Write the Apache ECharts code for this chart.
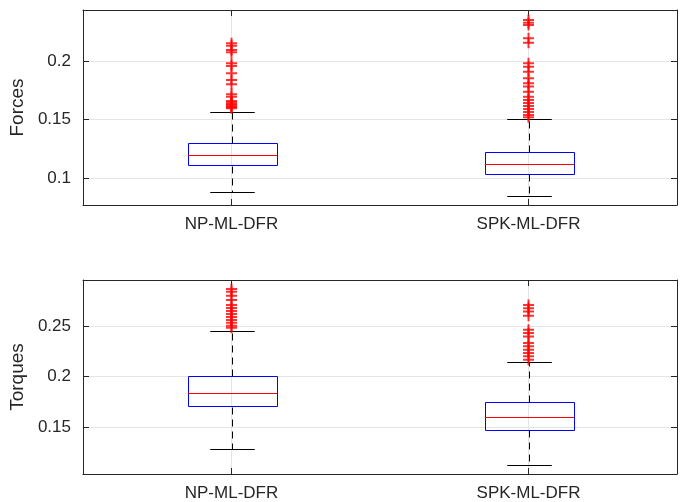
<!DOCTYPE html>
<html>
<head>
<meta charset="utf-8">
<script src="https://cdn.jsdelivr.net/npm/echarts@6/dist/echarts.min.js"></script>
<style>html,body{margin:0;padding:0;background:#fff}#c{width:684px;height:502px}</style>
</head>
<body>
<div id="c"></div>
<script>
// ---- data ----
var categories = ['NP-ML-DFR', 'SPK-ML-DFR'];
// [lower whisker, Q1, median, Q3, upper whisker]
var forcesStats = [
  [0.0880, 0.1105, 0.1194, 0.1297, 0.1565],
  [0.0844, 0.1037, 0.1120, 0.1222, 0.1505]
];
var torquesStats = [
  [0.1280, 0.1704, 0.1842, 0.2003, 0.2451],
  [0.1125, 0.1470, 0.1596, 0.1744, 0.2141]
];
var forcesOutNP = [0.2151, 0.2131, 0.2094, 0.2074, 0.1980, 0.1957, 0.1895, 0.1838, 0.1801,
  0.1716, 0.1695, 0.1658, 0.1645, 0.1632, 0.1622, 0.1612, 0.1604, 0.1596];
var forcesOutSPK = [0.2350, 0.2327, 0.2308, 0.2194, 0.2156, 0.1980, 0.1951, 0.1909, 0.1852,
  0.1810, 0.1781, 0.1738, 0.1695, 0.1667, 0.1641, 0.1615, 0.1590, 0.1564, 0.1538, 0.1520];
var torquesOutNP = [0.2868, 0.2841, 0.2802, 0.2759, 0.2710, 0.2680, 0.2651, 0.2621, 0.2591,
  0.2562, 0.2533, 0.2503, 0.2483];
var torquesOutSPK = [0.2710, 0.2678, 0.2644, 0.2602, 0.2464, 0.2431, 0.2398, 0.2333, 0.2300,
  0.2267, 0.2234, 0.2201, 0.2168];
var forcesTicks = [0.1, 0.15, 0.2];
var torquesTicks = [0.15, 0.2, 0.25];
var forcesRange = [0.0769, 0.2436];
var torquesRange = [0.1036, 0.2957];
var yNames = ['Forces', 'Torques'];

// ---- chart ----
var FONT = '"Liberation Sans", Arial, Helvetica, sans-serif';
var TXT = '#262626';
var GRIDC = '#e4e4e4';
var chart = echarts.init(document.getElementById('c'), null, {renderer: 'canvas'});

function boxData(stats) {
  return stats.map(function (s, i) { return [i + 1].concat(s); });
}
function outData(np, spk) {
  return np.map(function (v) { return [1, v]; }).concat(spk.map(function (v) { return [2, v]; }));
}

function renderBox(params, api) {
  var x = api.value(0);
  var lo = api.value(1), q1 = api.value(2), med = api.value(3), q3 = api.value(4), hi = api.value(5);
  var halfBox = api.size([0.3, 0])[0] / 2;
  var halfCap = api.size([0.15, 0])[0] / 2;
  var pLo = api.coord([x, lo]), pQ1 = api.coord([x, q1]), pMed = api.coord([x, med]);
  var pQ3 = api.coord([x, q3]), pHi = api.coord([x, hi]);
  var cx = Math.round(pLo[0]) + 0.5;
  function r(v) { return Math.round(v) + 0.5; }
  var dash = {stroke: '#000', lineWidth: 1, lineDash: [7, 5]};
  return {
    type: 'group',
    children: [
      {type: 'line', shape: {x1: cx, y1: r(pQ3[1]), x2: cx, y2: r(pHi[1])}, style: dash},
      {type: 'line', shape: {x1: cx, y1: r(pQ1[1]), x2: cx, y2: r(pLo[1])}, style: dash},
      {type: 'line', shape: {x1: cx - halfCap, y1: r(pHi[1]), x2: cx + halfCap, y2: r(pHi[1])}, style: {stroke: '#000', lineWidth: 1}},
      {type: 'line', shape: {x1: cx - halfCap, y1: r(pLo[1]), x2: cx + halfCap, y2: r(pLo[1])}, style: {stroke: '#000', lineWidth: 1}},
      {type: 'rect', shape: {x: r(cx - halfBox), y: r(pQ3[1]), width: Math.round(2 * halfBox), height: Math.round(pQ1[1] - pQ3[1])},
        style: {fill: null, stroke: '#0000ff', lineWidth: 1}},
      {type: 'line', shape: {x1: cx - halfBox, y1: r(pMed[1]), x2: cx + halfBox, y2: r(pMed[1])}, style: {stroke: '#ff0000', lineWidth: 1}}
    ]
  };
}

var grids = [
  {left: 83, right: 7, top: 10, height: 195},
  {left: 83, right: 7, top: 280, height: 195}
];

function xAxes(gi, pos, labels) {
  return {
    type: 'value', gridIndex: gi, position: pos, min: 0.5, max: 2.5,
    axisLine: {show: true, onZero: false, lineStyle: {color: TXT, width: 1}},
    axisTick: {show: true, inside: true, length: 6, customValues: [1, 2], lineStyle: {color: TXT}},
    axisLabel: {show: labels, customValues: [1, 2], margin: 11, color: TXT, fontSize: 17, fontFamily: FONT,
      formatter: function (v) { return categories[Math.round(v) - 1]; }},
    splitLine: {show: pos === 'bottom', lineStyle: {color: GRIDC, width: 1}}
  };
}
function yAxes(gi, pos, range, ticks, name) {
  var main = pos === 'left';
  return {
    type: 'value', gridIndex: gi, position: pos, min: range[0], max: range[1],
    name: main ? name : '', nameLocation: 'middle', nameGap: 55, nameRotate: 90,
    nameTextStyle: {color: TXT, fontSize: 19, fontFamily: FONT},
    axisLine: {show: true, onZero: false, lineStyle: {color: TXT, width: 1}},
    axisTick: {show: true, inside: true, length: 6, customValues: ticks, lineStyle: {color: TXT}},
    axisLabel: {show: main, customValues: ticks, margin: 12, color: TXT, fontSize: 17, fontFamily: FONT,
      formatter: function (v) { return String(+v.toFixed(4)); }},
    splitLine: {show: main, lineStyle: {color: GRIDC, width: 1}}
  };
}

var plusSymbol = 'path://M0,4.5h11v2h-11z M4.5,0h2v11h-2z';

var option = {
  animation: false,
  backgroundColor: '#ffffff',
  grid: grids,
  xAxis: [xAxes(0, 'bottom', true), xAxes(0, 'top', false), xAxes(1, 'bottom', true), xAxes(1, 'top', false)],
  yAxis: [yAxes(0, 'left', forcesRange, forcesTicks, yNames[0]), yAxes(0, 'right', forcesRange, forcesTicks, ''),
          yAxes(1, 'left', torquesRange, torquesTicks, yNames[1]), yAxes(1, 'right', torquesRange, torquesTicks, '')],
  series: [
    {type: 'custom', xAxisIndex: 0, yAxisIndex: 0, renderItem: renderBox, data: boxData(forcesStats),
      encode: {x: 0, y: [1, 2, 3, 4, 5]}, z: 3},
    {type: 'custom', xAxisIndex: 2, yAxisIndex: 2, renderItem: renderBox, data: boxData(torquesStats),
      encode: {x: 0, y: [1, 2, 3, 4, 5]}, z: 3},
    {type: 'scatter', xAxisIndex: 0, yAxisIndex: 0, data: outData(forcesOutNP, forcesOutSPK),
      symbol: plusSymbol, symbolSize: 11, itemStyle: {color: '#ff0000'}, z: 4, silent: true},
    {type: 'scatter', xAxisIndex: 2, yAxisIndex: 2, data: outData(torquesOutNP, torquesOutSPK),
      symbol: plusSymbol, symbolSize: 11, itemStyle: {color: '#ff0000'}, z: 4, silent: true}
  ]
};
chart.setOption(option);
</script>
</body>
</html>
